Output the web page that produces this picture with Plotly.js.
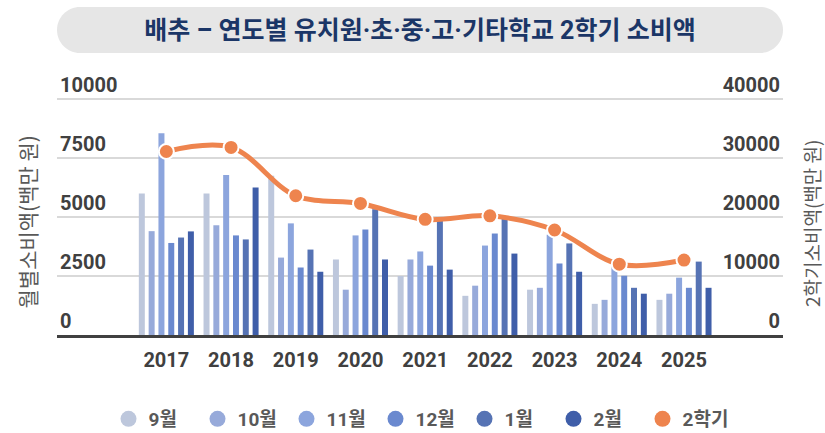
<!DOCTYPE html>
<html>
<head>
<meta charset="utf-8">
<script src="https://cdn.plot.ly/plotly-3.0.1.min.js"></script>
<style>html,body{margin:0;padding:0;background:#fff;}#chart{width:825px;height:433px;}</style>
</head>
<body>
<div id="chart"></div>
<script>
const years = ['2017','2018','2019','2020','2021','2022','2023','2024','2025'];
const sep = [6000, 6000, 6750, 3200, 2500, 1660, 1920, 1320, 1490];
const oct = [4400, 4650, 3280, 1920, 3200, 2090, 2000, 1490, 1750];
const nov = [8550, 6780, 4730, 4220, 3540, 3790, 4250, 2900, 2430];
const dec = [3900, 4220, 2860, 4470, 2940, 4300, 3030, 2510, 2000];
const jan = [4130, 4050, 3620, 5330, 4850, 4950, 3880, 2000, 3110];
const feb = [4390, 6250, 2680, 3200, 2770, 3450, 2680, 1750, 2000];
const semester = [31100, 31800, 23600, 22300, 19600, 20200, 17800, 12000, 12700];

const monthNames = ['9월','10월','11월','12월','1월','2월'];
const monthSeries = [sep, oct, nov, dec, jan, feb];
const monthColors = ['#BDC7DC','#97AADA','#8CA5DD','#6A89CF','#5673B4','#3F5EA9'];
const lineColor = '#EE844E';
const leftTicks = [0, 2500, 5000, 7500, 10000];
const rightTicks = [0, 10000, 20000, 30000, 40000];

const FONT = 'Roboto, "Noto Sans CJK KR", sans-serif';

// plot geometry (pixels)
const PLOT_TOP = 58, PLOT_BOTTOM = 335, GRID_TOP = 99;
const PH = PLOT_BOTTOM - PLOT_TOP;
const yTopFactor = PH / (PLOT_BOTTOM - GRID_TOP);

const traces = [];
monthSeries.forEach((vals, i) => {
  traces.push({
    type: 'bar', x: years, y: vals, name: monthNames[i],
    marker: {color: monthColors[i]}, showlegend: false, legendgroup: monthNames[i]
  });
});
traces.push({
  type: 'scatter', mode: 'lines+markers', x: years, y: semester, name: '2학기',
  yaxis: 'y2', showlegend: false, legendgroup: '2학기',
  line: {color: lineColor, width: 5, shape: 'spline', smoothing: 1},
  marker: {color: lineColor, size: 15, line: {color: '#ffffff', width: 2}}
});
// legend entries (circle symbols)
monthNames.forEach((n, i) => {
  traces.push({type: 'scatter', mode: 'markers', x: [null], y: [null], name: n, legendgroup: n,
    marker: {color: monthColors[i], size: 16, symbol: 'circle'}});
});
traces.push({type: 'scatter', mode: 'markers', x: [null], y: [null], name: '2학기', legendgroup: '2학기',
  marker: {color: lineColor, size: 16, symbol: 'circle'}});

const layout = {
  width: 825, height: 433,
  margin: {l: 57, r: 42, t: PLOT_TOP, b: 433 - PLOT_BOTTOM, pad: 0, autoexpand: false},
  paper_bgcolor: '#ffffff', plot_bgcolor: '#ffffff',
  font: {family: FONT, color: '#404040'},
  title: {
    text: '배추 – 연도별 유치원·초·중·고·기타학교 2학기 소비액',
    font: {family: FONT, size: 25, color: '#1B3667', weight: 'bold'},
    x: 0.5, xref: 'paper', xanchor: 'center',
    y: 1 - 30/433, yref: 'container', yanchor: 'middle'
  },
  barmode: 'group', bargap: 0.09, bargroupgap: 0.39,
  xaxis: {
    type: 'category', range: [-1.69, 9.53],
    showgrid: false, zeroline: false,
    showline: true, linecolor: '#404040', linewidth: 3,
    ticks: '', ticklen: 0, ticklabelstandoff: 5,
    tickfont: {family: FONT, size: 20, color: '#404040', weight: 'bold'},
    fixedrange: true
  },
  yaxis: {
    range: [0, 10000 * yTopFactor], tickvals: leftTicks, ticktext: leftTicks.map(String),
    showgrid: true, gridcolor: '#D9D9D9', gridwidth: 2,
    zeroline: false, showline: false, ticks: '',
    ticklabelposition: 'inside top',
    tickfont: {family: FONT, size: 20, color: '#404040', weight: 'bold'},
    fixedrange: true
  },
  yaxis2: {
    range: [0, 40000 * yTopFactor], tickvals: rightTicks, ticktext: rightTicks.map(String),
    overlaying: 'y', side: 'right', showgrid: false, zeroline: false, showline: false, ticks: '',
    ticklabelposition: 'inside top',
    tickfont: {family: FONT, size: 20, color: '#404040', weight: 'bold'},
    fixedrange: true
  },
  legend: {
    orientation: 'h', x: 0.5, xanchor: 'center', xref: 'paper',
    y: 1 - 419/433, yref: 'container', yanchor: 'middle',
    entrywidth: 44, entrywidthmode: 'pixels',
    font: {family: FONT, size: 19, color: '#595959', weight: 'bold'},
    itemclick: false, itemdoubleclick: false, traceorder: 'normal'
  },
  shapes: [{
    type: 'path', layer: 'below',
    xref: 'paper', yref: 'paper', xsizemode: 'pixel', ysizemode: 'pixel',
    xanchor: 0.5, yanchor: (PLOT_BOTTOM - 30) / PH,
    path: 'M -340,23 L 340,23 C 352.7,23 363,12.7 363,0 C 363,-12.7 352.7,-23 340,-23 L -340,-23 C -352.7,-23 -363,-12.7 -363,0 C -363,12.7 -352.7,23 -340,23 Z',
    fillcolor: '#E6E6E6', line: {width: 0}
  }],
  annotations: [
    {text: '월별소비액(백만 원)', xref: 'paper', yref: 'paper', x: (26.5 - 57) / 726,
     y: (PLOT_BOTTOM - 222) / PH,
     xanchor: 'center', yanchor: 'middle', textangle: -90, showarrow: false,
     font: {family: '"Noto Sans CJK KR", sans-serif', size: 21, color: '#595959'}},
    {text: '2학기소비액(백만 원)', xref: 'paper', yref: 'paper', x: (811 - 57) / 726,
     y: (PLOT_BOTTOM - 223) / PH,
     xanchor: 'center', yanchor: 'middle', textangle: -90, showarrow: false,
     font: {family: '"Noto Sans CJK KR", sans-serif', size: 19, color: '#595959'}}
  ],
  hovermode: false
};

Plotly.newPlot('chart', traces, layout, {displayModeBar: false, staticPlot: true});
</script>
</body>
</html>
